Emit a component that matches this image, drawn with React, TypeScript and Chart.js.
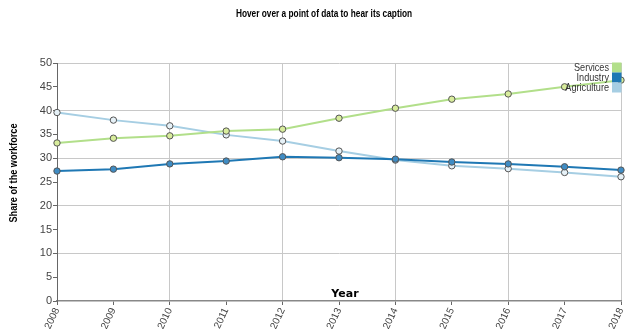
import React, { useEffect, useRef } from "react";
import { Chart, registerables } from "chart.js";

Chart.register(...registerables);

const years = ["2008", "2009", "2010", "2011", "2012", "2013", "2014", "2015", "2016", "2017", "2018"];
const services = [33.2, 34.2, 34.7, 35.7, 36.1, 38.4, 40.5, 42.4, 43.5, 45.0, 46.4];
const industry = [27.3, 27.7, 28.8, 29.4, 30.3, 30.1, 29.8, 29.2, 28.8, 28.2, 27.5];
const agriculture = [39.6, 38.0, 36.8, 34.9, 33.6, 31.5, 29.6, 28.4, 27.8, 27.0, 26.1];
const seriesNames = ["Services", "Industry", "Agriculture"];
const seriesColors = ["#b2df8a", "#1f78b4", "#a6cee3"];
const pointFills = ["#d8ec9c", "#3f8cc4", "#e6f1f7"];
const chartTitle = "Hover over a point of data to hear its caption";
const xTitle = "Year";
const yTitle = "Share of the workforce";

const FONT = "'Liberation Sans', Arial, sans-serif";
const SQUEEZE = 0.83;

function narrowText(ctx: any, text: string, x: number, y: number) {
  ctx.save();
  ctx.translate(x, y);
  ctx.scale(SQUEEZE, 1);
  ctx.fillText(text, 0, 0);
  ctx.restore();
}

const overlay = {
  id: "overlay",
  afterDraw(chart: any) {
    const ctx = chart.ctx;
    const area = chart.chartArea;
    ctx.save();
    // title
    ctx.fillStyle = "#000";
    ctx.font = `bold 10px ${FONT}`;
    ctx.textAlign = "center";
    ctx.textBaseline = "middle";
    narrowText(ctx, chartTitle, 324, 14);
    // y title
    ctx.save();
    ctx.translate(14, 173);
    ctx.rotate(-Math.PI / 2);
    ctx.font = `bold 11px ${FONT}`;
    narrowText(ctx, yTitle, 0, 0);
    ctx.restore();
    // x title
    ctx.font = `bold 11px 'DejaVu Sans', ${FONT}`;
    ctx.textBaseline = "alphabetic";
    ctx.fillText(xTitle, 345, area.bottom - 4);
    // legend
    ctx.font = `11px ${FONT}`;
    ctx.textAlign = "right";
    ctx.textBaseline = "middle";
    seriesNames.forEach((name, i) => {
      const y = 67.5 + i * 10;
      ctx.fillStyle = seriesColors[i];
      ctx.fillRect(612, y - 5, 9.5, 10);
      ctx.fillStyle = "#333";
      narrowText(ctx, name, 609, y);
    });
    ctx.restore();
  },
};

export default function App() {
  const ref = useRef<HTMLCanvasElement>(null);
  useEffect(() => {
    const series = [services, industry, agriculture];
    const chart = new Chart(ref.current!, {
      type: "line",
      data: {
        labels: years,
        datasets: series.map((d, i) => ({
          label: seriesNames[i],
          data: d,
          borderColor: seriesColors[i],
          borderWidth: 2,
          pointRadius: 3.2,
          pointBorderWidth: 1,
          pointBorderColor: "#555",
          pointBackgroundColor: pointFills[i],
          tension: 0,
          fill: false,
        })),
      },
      options: {
        animation: false,
        responsive: true,
        maintainAspectRatio: false,
        layout: { padding: { top: 63, right: 8, left: 0, bottom: 0 } },
        plugins: {
          legend: { display: false },
          title: { display: false },
          tooltip: { enabled: false },
        },
        scales: {
          x: {
            offset: false,
            afterFit: (s: any) => { s.height = 28; s.paddingRight = 0; s.paddingLeft = 0; },
            grid: {
              color: (c: any) => (c.index % 2 === 0 ? "#c8c8c8" : "rgba(0,0,0,0)"),
              tickColor: "#666",
              tickLength: 4,
              drawOnChartArea: true,
            },
            border: { color: "#888", width: 1.5 },
            ticks: {
              color: "#444",
              font: { family: FONT, size: 10 },
              minRotation: 65,
              maxRotation: 65,
              padding: 1,
              autoSkip: false,
            },
          },
          y: {
            min: 0,
            max: 50,
            afterFit: (s: any) => { s.width = 57; },
            grid: {
              color: (c: any) => (c.tick && c.tick.value % 10 === 0 && c.tick.value !== 0 ? "#c8c8c8" : "rgba(0,0,0,0)"),
              tickColor: "#666",
              tickLength: 4,
            },
            border: { color: "#666", width: 1 },
            ticks: {
              stepSize: 5,
              color: "#444",
              font: { family: FONT, size: 11 },
              padding: 1,
            },
          },
        },
      },
      plugins: [overlay],
    });
    return () => chart.destroy();
  }, []);
  return (
    <div style={{ position: "fixed", left: 0, top: 0, width: 629, height: 329 }}>
      <canvas ref={ref} />
    </div>
  );
}
